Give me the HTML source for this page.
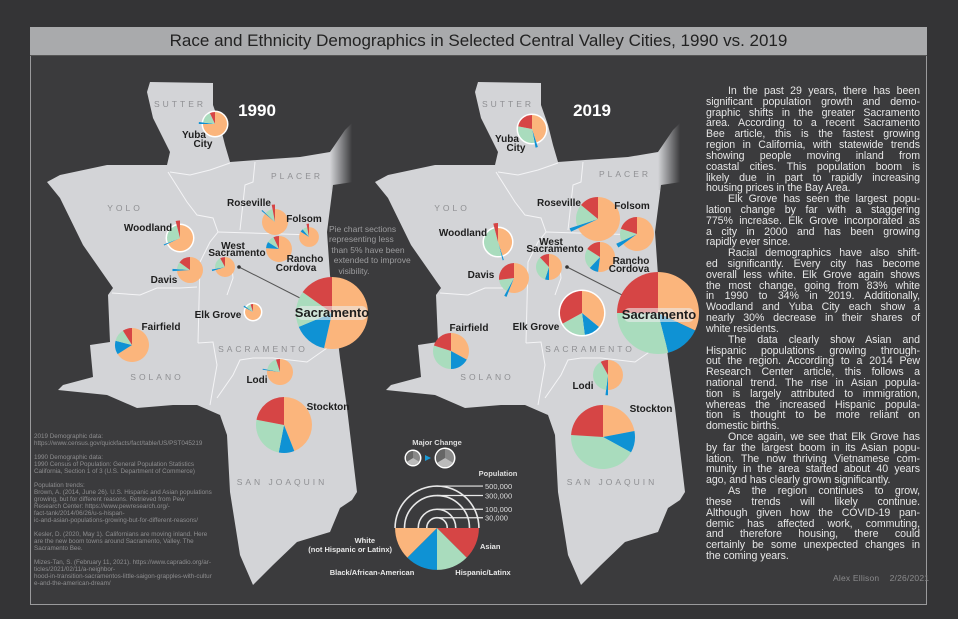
<!DOCTYPE html>
<html><head><meta charset="utf-8">
<style>
html,body{margin:0;padding:0;background:#343436;}
body{width:958px;height:619px;position:relative;overflow:hidden;font-family:"Liberation Sans",sans-serif;}
#panel{position:absolute;left:30px;top:27px;width:897px;height:578px;background:#3b3b3d;border:1.5px solid #9a9a9c;box-sizing:border-box;}
#title{position:absolute;left:30px;top:27px;width:897px;height:29px;background:#a9aaac;border-bottom:1.5px solid #555;box-sizing:border-box;text-align:center;font-size:17px;line-height:28px;color:#222;}
svg{position:absolute;left:0;top:0;}
#story{position:absolute;left:706px;top:86px;width:214px;font-size:10.6px;line-height:10.82px;color:#e6e6e6;letter-spacing:-0.05px;}
#story div{text-align:justify;text-align-last:justify;white-space:nowrap;}
#story div.e{text-align-last:left;}
#story div.i{padding-left:22px;}
#sources{position:absolute;left:34px;top:433px;width:190px;font-size:6.3px;line-height:7px;color:#8e8e90;white-space:nowrap;}
#sources p{margin:0 0 7px 0;}
#sign{position:absolute;left:833px;top:573px;font-size:8.5px;color:#8a8a8c;letter-spacing:0.2px;}
#note{position:absolute;left:329px;top:224px;font-size:8.5px;line-height:10.4px;color:#9c9c9e;}
</style></head><body>
<div id="panel"></div>
<div id="title">Race and Ethnicity Demographics in Selected Central Valley Cities, 1990 vs. 2019</div>

<svg id="chart" width="958" height="619" viewBox="0 0 958 619">
<defs>
<linearGradient id="fade" x1="0" x2="1" y1="0" y2="0"><stop offset="0" stop-color="#3b3b3d" stop-opacity="0"/><stop offset="0.85" stop-color="#3b3b3d" stop-opacity="1"/><stop offset="1" stop-color="#3b3b3d" stop-opacity="1"/></linearGradient>
<g id="mapshape">
<polygon fill="#d3d4d7" points="150,82 213,83 213,105 220,125 225,145 230,162 257,160 300,157 330,152 345,130 353,122 353,182 333,185 327,232 330,275 340,358 347,408 357,492 352,500 340,508 330,532 297,542 273,565 253,585 240,555 230,492 227,435 220,415 197,405 173,405 137,408 107,395 58,390 63,385 93,377 90,345 110,342 108,295 113,288 83,245 60,198 47,182 60,175 107,165 167,165 170,152 153,118 147,92"/>
<g fill="none" stroke="#f4f4f6" stroke-width="1">
<polyline points="170,172 190,175 210,170 230,163"/>
<polyline points="255,162 253,182 245,185 240,230"/>
<polyline points="218,232 313,235"/>
<polyline points="168,172 187,202 197,215 213,218 218,232 210,242 200,262 198,343"/>
<polyline points="112,293 140,295 157,288 180,288 197,287"/>
<polyline points="198,343 213,342 217,365 210,405"/>
<polyline points="217,398 233,375 240,360 253,358 273,358 307,362 327,348"/>
<polyline points="227,295 233,278 232,268"/>
</g>
<rect x="330" y="112" width="26" height="78" fill="url(#fade)"/>
</g>
</defs>
<use href="#mapshape"/>
<use href="#mapshape" transform="translate(328,0)"/>

<g font-size="8.5" fill="#8f9093" letter-spacing="3" text-anchor="middle">
<text x="180" y="107">SUTTER</text><text x="125" y="211">YOLO</text><text x="297" y="179">PLACER</text><text x="263" y="352">SACRAMENTO</text><text x="157" y="380">SOLANO</text><text x="282" y="485">SAN JOAQUIN</text>
<text x="508" y="107">SUTTER</text><text x="452" y="211">YOLO</text><text x="625" y="177">PLACER</text><text x="590" y="352">SACRAMENTO</text><text x="487" y="380">SOLANO</text><text x="612" y="485">SAN JOAQUIN</text>
</g>
<text x="257" y="116" font-size="17" font-weight="bold" fill="#fff" text-anchor="middle">1990</text>
<text x="592" y="116" font-size="17" font-weight="bold" fill="#fff" text-anchor="middle">2019</text>
<line x1="239" y1="267" x2="300" y2="298" stroke="#555" stroke-width="1"/>
<circle cx="239" cy="267" r="1.8" fill="#333"/>
<line x1="567" y1="267" x2="628" y2="298" stroke="#555" stroke-width="1"/>
<circle cx="567" cy="267" r="1.8" fill="#333"/>
<g id="pies"></g>
<g id="labels" font-size="10" font-weight="bold" fill="#1e1e1e" font-family="'Liberation Sans Narrow','Liberation Sans',sans-serif"></g>
<g id="legend"></g>
</svg>

<div id="note">Pie chart sections<br>representing less<br>&nbsp;than 5% have been<br>&nbsp;&nbsp;extended to improve<br>&nbsp;&nbsp;&nbsp;&nbsp;visibility.</div>

<div id="story">
<div class="i">In the past 29 years, there has been</div>
<div>significant population growth and demo-</div>
<div>graphic shifts in the greater Sacramento</div>
<div>area. According to a recent Sacramento</div>
<div>Bee article, this is the fastest growing</div>
<div>region in California, with statewide trends</div>
<div>showing people moving inland from</div>
<div>coastal cities. This population boom is</div>
<div>likely due in part to rapidly increasing</div>
<div class="e">housing prices in the Bay Area.</div>
<div class="i">Elk Grove has seen the largest popu-</div>
<div>lation change by far with a staggering</div>
<div>775% increase. Elk Grove incorporated as</div>
<div>a city in 2000 and has been growing</div>
<div class="e">rapidly ever since.</div>
<div class="i">Racial demographics have also shift-</div>
<div>ed significantly. Every city has become</div>
<div>overall less white. Elk Grove again shows</div>
<div>the most change, going from 83% white</div>
<div>in 1990 to 34% in 2019. Additionally,</div>
<div>Woodland and Yuba City each show a</div>
<div>nearly 30% decrease in their shares of</div>
<div class="e">white residents.</div>
<div class="i">The data clearly show Asian and</div>
<div>Hispanic populations growing through-</div>
<div>out the region. According to a 2014 Pew</div>
<div>Research Center article, this follows a</div>
<div>national trend. The rise in Asian popula-</div>
<div>tion is largely attributed to immigration,</div>
<div>whereas the increased Hispanic popula-</div>
<div>tion is thought to be more reliant on</div>
<div class="e">domestic births.</div>
<div class="i">Once again, we see that Elk Grove has</div>
<div>by far the largest boom in its Asian popu-</div>
<div>lation. The now thriving Vietnamese com-</div>
<div>munity in the area started about 40 years</div>
<div class="e">ago, and has clearly grown significantly.</div>
<div class="i">As the region continues to grow,</div>
<div>these trends will likely continue.</div>
<div>Although given how the COVID-19 pan-</div>
<div>demic has affected work, commuting,</div>
<div>and therefore housing, there could</div>
<div>certainly be some unexpected changes in</div>
<div class="e">the coming years.</div>
</div>

<div id="sources">
<p>2019 Demographic data:<br>https://www.census.gov/quickfacts/fact/table/US/PST045219</p>
<p>1990 Demographic data:<br>1990 Census of Population: General Population Statistics<br>California, Section 1 of 3 (U.S. Department of Commerce)</p>
<p>Population trends:<br>Brown, A. (2014, June 26). U.S. Hispanic and Asian populations<br>growing, but for different reasons. Retrieved from Pew<br>Research Center: https://www.pewresearch.org/-<br>fact-tank/2014/06/26/u-s-hispan-<br>ic-and-asian-populations-growing-but-for-different-reasons/</p>
<p>Kesler, D. (2020, May 1). Californians are moving inland. Here<br>are the new boom towns around Sacramento, Valley. The<br>Sacramento Bee.</p>
<p>Mizes-Tan, S. (February 11, 2021). https://www.capradio.org/ar-<br>ticles/2021/02/11/a-neighbor-<br>hood-in-transition-sacramentos-little-saigon-grapples-with-cultur<br>e-and-the-american-dream/</p>
</div>
<div id="sign">Alex Ellison &nbsp;&nbsp;&nbsp;2/26/2021</div>

<script>
const cities = ["Yuba City","Woodland","Davis","West Sacramento","Roseville","Folsom","Rancho Cordova","Elk Grove","Sacramento","Fairfield","Lodi","Stockton"];
const categories = ["White","Black","Hispanic","Asian"];
const colors = ["#fbb57c","#0f92d4","#a9dcbd","#d64545"];
// population estimates (read from pie sizes)
const pop1990 = [41000,48000,48000,28000,48000,28000,48000,18000,369000,82000,48000,223000];
const pop2019 = [56000,56000,64000,48000,138000,82000,64000,138000,478000,92000,64000,291000];
// shares [white, black, hispanic, asian] %
const white1990 = [75,68,74,70,86,84,76,83,53,66,77,44];
const black1990 = [2,1,2,2,1,5,8,2,15,13,1,9];
const hisp1990  = [16,27,9,20,10,8,9,10,16,12,17,25];
const asian1990 = [7,4,15,8,3,3,7,5,15,9,5,22];
const white2019 = [45,45,56,50,68,65,52,36,32,33,50,22];
const black2019 = [2,1,2,5,2,3,10,12,14,17,2,11];
const hisp2019  = [31,50,15,33,16,12,22,19,29,30,40,43];
const asian2019 = [22,4,27,12,14,20,16,33,25,20,8,24];
const major = ["Yuba City","Woodland","Elk Grove"];
const legendPops = [500000,300000,100000,30000];
const legendLabels = ["500,000","300,000","100,000","30,000"];
// map locations of cities (1990 map frame; 2019 map offset)
const cityX = [215,180,190,225,275,309,279,253,332,132,280,284];
const cityY = [124,238,270,267,222,237,249,312,313,345,372,425];
const cityX19 = [532,498,514,549,598,637,600,582,658,451,608,603];
const cityY19 = [129,242,278,267,219,234,257,313,313,351,375,437];

const NS="http://www.w3.org/2000/svg";
const rScale = p => 0.0593*Math.sqrt(p);
function arc(cx,cy,r,a0,a1){
  const p=(a)=>[cx+r*Math.sin(a),cy-r*Math.cos(a)];
  const [x0,y0]=p(a0),[x1,y1]=p(a1);
  const large=(a1-a0)>Math.PI?1:0;
  return `M${cx},${cy}L${x0},${y0}A${r},${r} 0 ${large} 1 ${x1},${y1}Z`;
}
const pies=document.getElementById('pies');
function drawPie(cx,cy,r,shares,name,isMajor){
  const g=document.createElementNS(NS,'g');
  
  
  if(isMajor){
    const c=document.createElementNS(NS,'circle');
    c.setAttribute('cx',cx);c.setAttribute('cy',cy);c.setAttribute('r',r+1.5);
    c.setAttribute('fill','#fff');
    
    
    g.appendChild(c);
  }
  const tot=shares.reduce((a,b)=>a+b,0);
  let a=0;
  shares.forEach((s,i)=>{
    const a1=a+s/tot*2*Math.PI;
    const rr = s/tot<0.05 ? r*1.35 : r;
    const path=document.createElementNS(NS,'path');
    path.setAttribute('d',arc(cx,cy,rr,a,a1));
    path.setAttribute('fill',colors[i]);
    
    
    g.appendChild(path);
    a=a1;
  });
  pies.appendChild(g);
}
cities.forEach((c,i)=>{
  const key=c.toLowerCase().replace(/ /g,'-');
  drawPie(cityX[i],cityY[i],rScale(pop1990[i]),[white1990[i],black1990[i],hisp1990[i],asian1990[i]],key+'-1990',major.includes(c));
  drawPie(cityX19[i],cityY19[i],rScale(pop2019[i]),[white2019[i],black2019[i],hisp2019[i],asian2019[i]],key+'-2019',major.includes(c));
});

// city labels
const labels=document.getElementById('labels');
const labelDefs=[
 ["Yuba",194,138],["City",203,147],["Roseville",249,206],["Folsom",304,222],["Woodland",148,231],["West",233,249],["Sacramento",237,256],["Davis",164,283],["Rancho",305,262],["Cordova",296,271],["Elk Grove",218,318],["Fairfield",161,330],["Lodi",257,383],["Stockton",328,410],
 ["Yuba",507,142],["City",516,151],["Roseville",559,206],["Folsom",632,209],["Woodland",463,236],["West",551,245],["Sacramento",555,252],["Davis",481,278],["Rancho",631,264],["Cordova",629,272],["Elk Grove",536,330],["Fairfield",469,331],["Lodi",583,389],["Stockton",651,412]
];
labelDefs.forEach(d=>{
  const t=document.createElementNS(NS,'text');
  t.setAttribute('x',d[1]);t.setAttribute('y',d[2]);t.setAttribute('text-anchor','middle');
  t.textContent=d[0];
  
  
  labels.appendChild(t);
});
[[332,317],[659,319]].forEach(p=>{
  const bg=document.createElementNS(NS,'rect');
  bg.setAttribute('x',p[0]-35);bg.setAttribute('y',p[1]-11);bg.setAttribute('width',70);bg.setAttribute('height',14);bg.setAttribute('rx',5);
  bg.setAttribute('fill','rgba(235,235,235,0.6)');
  
  
  labels.appendChild(bg);
  const t=document.createElementNS(NS,'text');
  t.setAttribute('x',p[0]);t.setAttribute('y',p[1]);t.setAttribute('text-anchor','middle');t.setAttribute('font-size','13');
  t.textContent='Sacramento';
  
  
  labels.appendChild(t);
});

// legend
const lg=document.getElementById('legend');
function el(tag,attrs,txt){const e=document.createElementNS(NS,tag);for(const k in attrs)e.setAttribute(k,attrs[k]);if(txt)e.textContent=txt;lg.appendChild(e);return e;}
const lx=437, ly=528;
const mc=el('text',{x:437,y:445,'font-size':7.5,'font-weight':'bold',fill:'#ddd','text-anchor':'middle'},'Major Change');

[[413,458,7],[445,458,9]].forEach(c=>{
  const o=el('circle',{cx:c[0],cy:c[1],r:c[2]+1.5,fill:'#fff'});
  
  
  el('circle',{cx:c[0],cy:c[1],r:c[2],fill:'#888'});
  el('path',{d:arc(c[0],c[1],c[2],Math.PI*0.67,Math.PI*1.33),fill:'#bbb'});
  el('path',{d:arc(c[0],c[1],c[2],Math.PI*1.33,Math.PI*2),fill:'#666'});
});
el('path',{d:'M425,455 L431,458 L425,461 Z',fill:'#1a9ad6'});
const pt=el('text',{x:498,y:476,'font-size':7.5,'font-weight':'bold',fill:'#ddd','text-anchor':'middle'},'Population');

legendPops.forEach((p,i)=>{
  const r=rScale(p);
  const a=el('path',{d:`M${lx-r},${ly} A${r},${r} 0 0 1 ${lx+r},${ly}`,fill:'none',stroke:'#e8e8e8','stroke-width':1.6});
  
  
  el('line',{x1:lx,y1:ly-r,x2:483,y2:ly-r,stroke:'#e8e8e8','stroke-width':1.2});
  const t=el('text',{x:485,y:ly-r+3,'font-size':7.5,fill:'#ddd'},legendLabels[i]);
  
});
const R=rScale(legendPops[0]);
const half=(a0,a1,c)=>{
  const p=(a)=>[lx+R*Math.sin(a),ly-R*Math.cos(a)];
  const [x0,y0]=p(a0),[x1,y1]=p(a1);
  const s=el('path',{d:`M${lx},${ly}L${x0},${y0}A${R},${R} 0 0 1 ${x1},${y1}Z`,fill:c});
  
  
};
half(Math.PI/2,Math.PI*0.75,colors[3]);
half(Math.PI*0.75,Math.PI,colors[2]);
half(Math.PI,Math.PI*1.25,colors[1]);
half(Math.PI*1.25,Math.PI*1.5,colors[0]);
[["White",375,543,'end'],["(not Hispanic or Latinx)",392,552,'end'],["Asian",480,549,'start'],["Black/African-American",372,575,'middle'],["Hispanic/Latinx",483,575,'middle']].forEach(d=>{
  const t=el('text',{x:d[1],y:d[2],'font-size':7.5,'font-weight':'bold',fill:'#e8e8e8','text-anchor':d[3]},d[0]);
  
});
</script>
</body></html>
